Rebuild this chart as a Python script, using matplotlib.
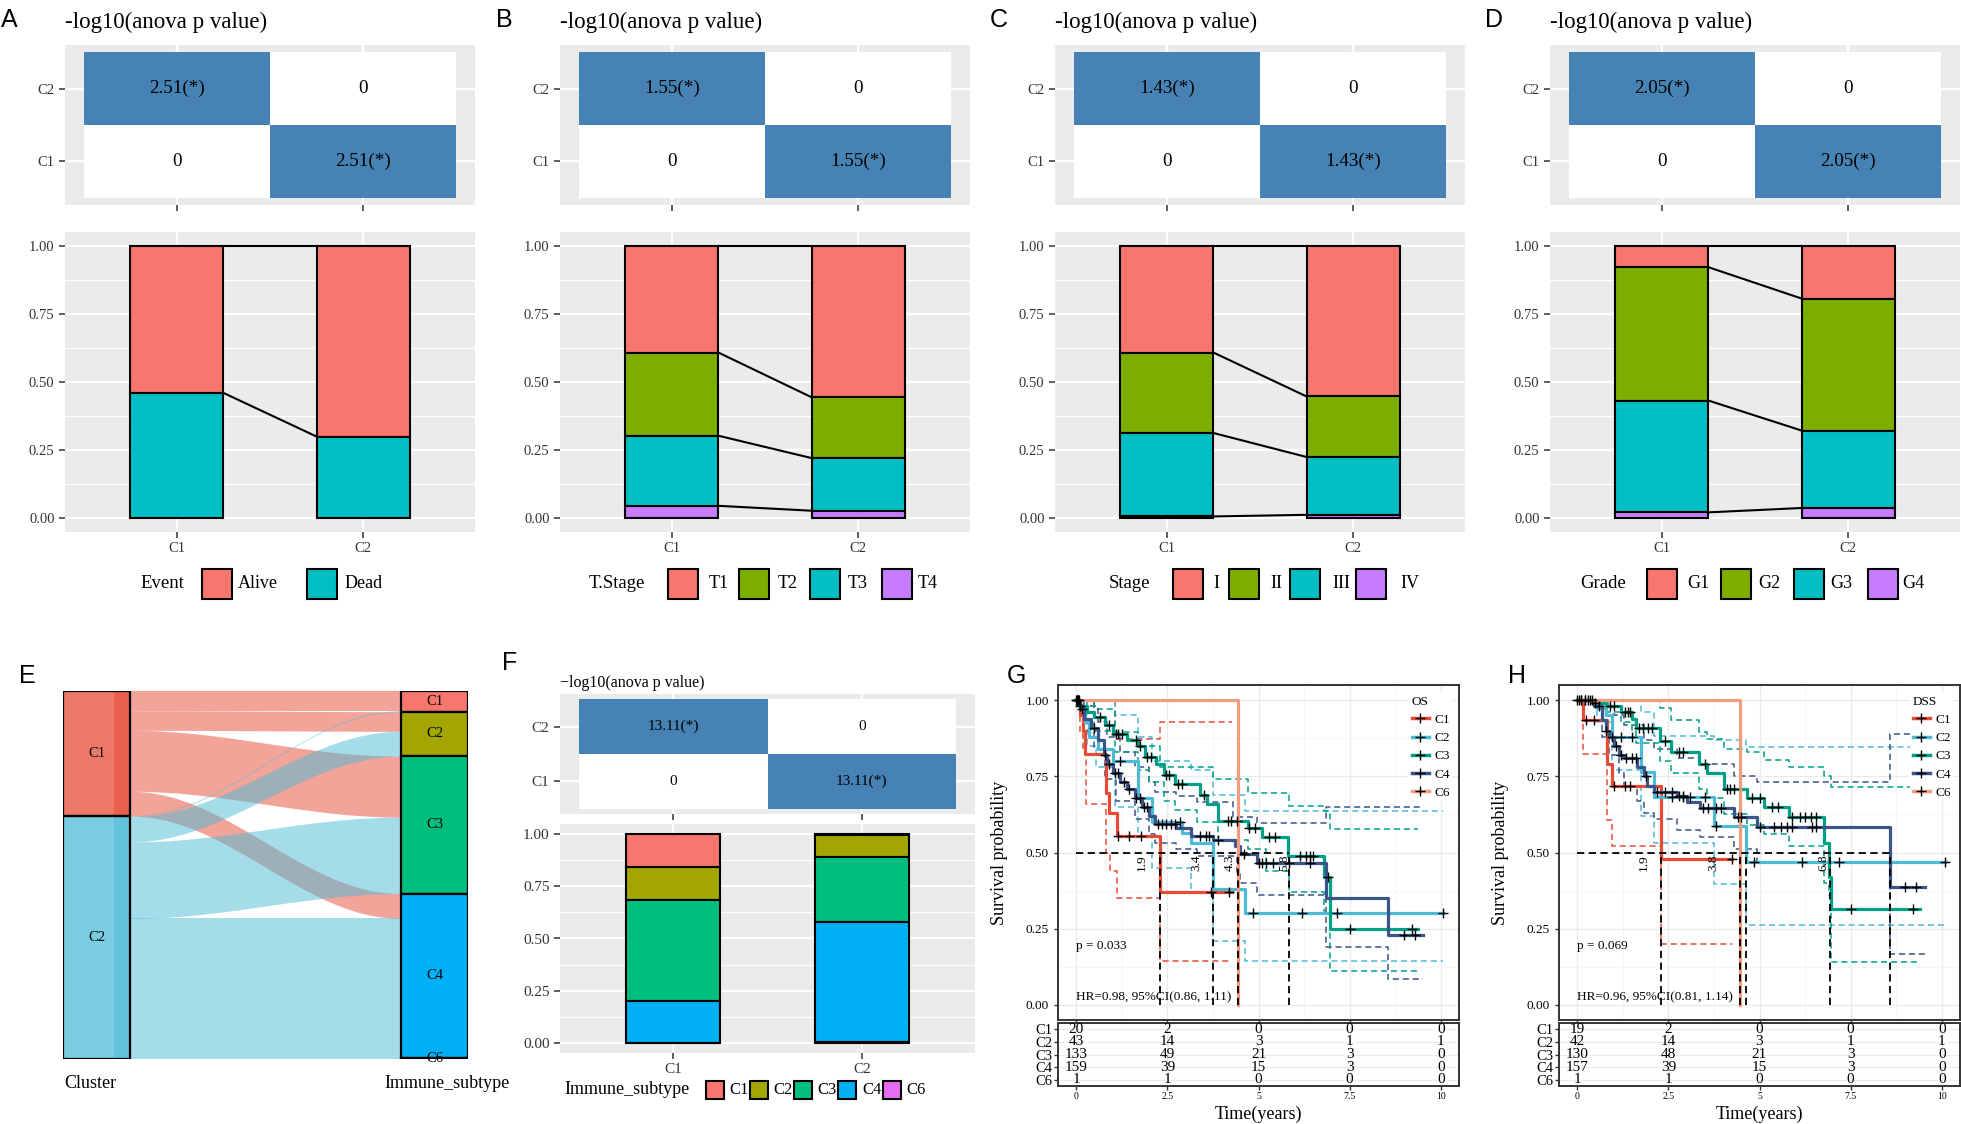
import numpy as np
import matplotlib
matplotlib.use('Agg')
import matplotlib.pyplot as plt
from matplotlib.lines import Line2D
from matplotlib.patches import Rectangle
from matplotlib.colors import LinearSegmentedColormap

plt.rcParams['font.family'] = ['Liberation Serif', 'DejaVu Serif']

# ---------------- data ----------------
clusters = ['C1', 'C2']

anova_event = 2.51
anova_tstage = 1.55
anova_stage = 1.43
anova_grade = 2.05
anova_immune = 13.11

event_levels = ['Alive', 'Dead']
event_c1 = [0.54, 0.46]
event_c2 = [0.70, 0.30]

tstage_levels = ['T1', 'T2', 'T3', 'T4']
tstage_c1 = [0.392, 0.305, 0.257, 0.046]
tstage_c2 = [0.556, 0.223, 0.193, 0.028]

stage_levels = ['I', 'II', 'III', 'IV']
stage_c1 = [0.392, 0.295, 0.306, 0.007]
stage_c2 = [0.553, 0.222, 0.212, 0.013]

grade_levels = ['G1', 'G2', 'G3', 'G4']
grade_c1 = [0.079, 0.489, 0.410, 0.022]
grade_c2 = [0.194, 0.484, 0.284, 0.038]

immune_levels = ['C1', 'C2', 'C3', 'C4', 'C6']
immune_c1_counts = [19, 19, 59, 24, 0]
immune_c2_counts = [1, 24, 74, 135, 1]

hue2 = ['#F8766D', '#00BFC4']
hue4 = ['#F8766D', '#7CAE00', '#00BFC4', '#C77CFF']
hue5 = ['#F8766D', '#A3A500', '#00BF7D', '#00B0F6', '#E76BF3']
npg = ['#E64B35', '#4DBBD5', '#00A087', '#3C5488', '#F39B7F']

# OS (panel G)
os_c1_t = [0, 0.1, 0.19, 0.25, 0.83, 0.9, 1.12, 2.29, 4.26]
os_c1_s = [1.0, 0.95, 0.90, 0.825, 0.695, 0.63, 0.555, 0.37, 0.37]
os_c2_t = [0, 0.1, 0.25, 0.35, 0.6, 1.0, 1.7, 2.07, 2.9, 3.16, 3.76, 4.63, 10.06]
os_c2_s = [1.0, 0.977, 0.93, 0.88, 0.84, 0.80, 0.68, 0.60, 0.565, 0.53, 0.38, 0.30, 0.30]
os_c3_t = [0, 0.1, 0.3, 0.5, 0.8, 1.0, 1.4, 1.7, 1.9, 2.2, 2.4, 2.7, 3.4, 3.6, 3.9, 4.7, 5.1, 5.8, 6.8, 6.95, 9.38]
os_c3_s = [1.0, 0.98, 0.96, 0.945, 0.92, 0.89, 0.87, 0.85, 0.815, 0.79, 0.755, 0.725, 0.69, 0.66, 0.605, 0.58, 0.552, 0.49, 0.42, 0.25, 0.25]
os_c4_t = [0, 0.1, 0.2, 0.4, 0.6, 0.75, 0.85, 1.0, 1.2, 1.4, 1.6, 1.8, 2.0, 2.15, 2.75, 3.16, 3.76, 4.35, 4.5, 4.95, 6.85, 8.55, 9.5]
os_c4_s = [1.0, 0.97, 0.94, 0.91, 0.87, 0.82, 0.79, 0.76, 0.73, 0.71, 0.68, 0.65, 0.62, 0.595, 0.58, 0.555, 0.54, 0.52, 0.495, 0.465, 0.35, 0.23, 0.23]
os_c6_t = [0, 4.44]
os_c6_s = [1.0, 0.0]

os_c1_hi_t = [0, 1.06, 2.29, 4.26]
os_c1_hi_s = [1.0, 0.874, 0.927, 0.927]
os_c1_lo_t = [0, 0.1, 0.19, 0.27, 0.83, 0.92, 1.12, 2.29, 4.26]
os_c1_lo_s = [1.0, 0.89, 0.84, 0.66, 0.50, 0.44, 0.35, 0.145, 0.145]
os_c2_hi_t = [0, 1.06, 1.7, 2.07, 3.16, 3.76, 4.63, 10.06]
os_c2_hi_s = [1.0, 0.95, 0.88, 0.80, 0.77, 0.69, 0.636, 0.636]
os_c2_lo_t = [0, 0.3, 0.55, 1.06, 1.7, 2.07, 3.16, 3.76, 4.63, 10.06]
os_c2_lo_s = [1.0, 0.85, 0.78, 0.65, 0.55, 0.45, 0.37, 0.21, 0.145, 0.145]
os_c3_hi_t = [0, 0.5, 1.06, 1.7, 2.3, 3.76, 4.7, 5.85, 6.8, 6.95, 9.38]
os_c3_hi_s = [1.0, 0.97, 0.895, 0.85, 0.78, 0.74, 0.695, 0.652, 0.637, 0.577, 0.577]
os_c3_lo_t = [0, 0.5, 1.06, 1.7, 2.0, 2.4, 2.7, 3.3, 3.9, 4.7, 5.2, 5.85, 6.8, 6.95, 9.38]
os_c3_lo_s = [1.0, 0.90, 0.83, 0.77, 0.73, 0.67, 0.64, 0.60, 0.54, 0.51, 0.44, 0.37, 0.30, 0.11, 0.11]
os_c4_hi_t = [0, 0.3, 0.6, 0.85, 1.2, 1.6, 2.0, 2.15, 2.75, 3.3, 4.3, 4.95, 6.85, 9.5]
os_c4_hi_s = [1.0, 0.98, 0.93, 0.88, 0.83, 0.78, 0.73, 0.70, 0.685, 0.665, 0.617, 0.598, 0.648, 0.648]
os_c4_lo_t = [0, 0.2, 0.5, 0.8, 1.1, 1.6, 2.0, 2.15, 2.75, 3.3, 4.4, 4.5, 4.95, 6.85, 8.55, 9.5]
os_c4_lo_s = [1.0, 0.90, 0.84, 0.74, 0.67, 0.61, 0.56, 0.53, 0.51, 0.49, 0.43, 0.40, 0.36, 0.19, 0.085, 0.085]

os_c1_cens = [1.15, 1.45, 1.78, 3.7, 4.2]
os_c2_cens = [0.05, 1.2, 2.84, 4.85, 6.18, 7.14, 10.06]
os_c3_cens = [0.02, 0.05, 0.1, 0.65, 0.9, 1.1, 1.15, 1.25, 1.65, 1.75, 1.95, 2.05, 2.45, 2.55, 2.8, 2.9,
              3.5, 4.15, 4.25, 4.4, 4.75, 4.9, 5.3, 5.45, 6.15, 6.3, 6.4, 6.5, 6.9, 7.5, 9.2]
os_c4_cens = [0.0, 0.03, 0.08, 0.15, 0.5, 0.8, 0.9, 1.05, 1.15, 1.3, 1.45, 1.65, 1.75, 1.85, 1.95, 2.25,
              2.35, 2.45, 2.6, 2.7, 3.4, 3.55, 3.65, 3.9, 4.6, 5.0, 5.1, 5.2, 5.4, 5.85, 6.4, 9.0, 9.3]

os_medians = [2.29, 3.76, 4.44, 5.84]
os_med_x = [1.79, 3.3, 4.21, 5.72]
os_med_labels = ['1.9', '3.4', '4.3', '5.8']
os_risk = [[20, 2, 0, 0, 0], [43, 14, 3, 1, 1], [133, 49, 21, 3, 0], [159, 39, 15, 3, 0], [1, 1, 0, 0, 0]]

# DSS (panel H)
dss_c1_t = [0, 0.16, 0.82, 0.96, 2.31, 4.25]
dss_c1_s = [1.0, 0.935, 0.79, 0.72, 0.48, 0.48]
dss_c2_t = [0, 0.55, 0.8, 0.95, 1.75, 2.1, 3.74, 4.62, 10.1]
dss_c2_s = [1.0, 0.976, 0.95, 0.88, 0.765, 0.683, 0.587, 0.468, 0.468]
dss_c3_t = [0, 0.5, 0.82, 1.19, 1.51, 1.6, 2.28, 2.56, 3.33, 3.56, 4.02, 4.66, 5.11, 5.8, 6.76, 6.9, 6.96, 9.41]
dss_c3_s = [1.0, 0.99, 0.98, 0.96, 0.94, 0.91, 0.865, 0.83, 0.79, 0.76, 0.71, 0.68, 0.65, 0.615, 0.53, 0.42, 0.315, 0.315]
dss_c4_t = [0, 0.46, 0.68, 0.78, 0.87, 1.0, 1.14, 1.28, 1.64, 1.83, 1.92, 2.1, 2.74, 3.01, 3.38, 4.29, 4.93, 8.57, 9.54]
dss_c4_s = [1.0, 0.98, 0.935, 0.90, 0.88, 0.85, 0.82, 0.81, 0.78, 0.75, 0.72, 0.70, 0.685, 0.667, 0.647, 0.617, 0.585, 0.388, 0.388]
dss_c6_t = [0, 4.46]
dss_c6_s = [1.0, 0.0]

dss_c1_hi_t = [0, 4.25]
dss_c1_hi_s = [1.0, 1.0]
dss_c1_lo_t = [0, 0.16, 0.82, 0.96, 2.31, 4.25]
dss_c1_lo_s = [1.0, 0.825, 0.607, 0.52, 0.20, 0.20]
dss_c2_hi_t = [0, 1.75, 2.1, 3.74, 4.62, 10.1]
dss_c2_hi_s = [1.0, 0.96, 0.883, 0.87, 0.846, 0.846]
dss_c2_lo_t = [0, 0.55, 0.95, 1.75, 2.1, 3.74, 4.62, 10.1]
dss_c2_lo_s = [1.0, 0.93, 0.77, 0.62, 0.53, 0.395, 0.262, 0.262]
dss_c3_hi_t = [0, 2.28, 2.56, 3.33, 3.56, 4.02, 4.66, 5.11, 5.8, 6.76, 6.96, 9.41]
dss_c3_hi_s = [1.0, 0.973, 0.935, 0.896, 0.874, 0.84, 0.83, 0.805, 0.78, 0.75, 0.714, 0.714]
dss_c3_lo_t = [0, 0.82, 1.19, 1.51, 1.6, 2.28, 2.56, 3.33, 3.56, 4.02, 4.66, 5.11, 5.8, 6.76, 6.9, 6.96, 9.41]
dss_c3_lo_s = [1.0, 0.96, 0.93, 0.90, 0.86, 0.80, 0.76, 0.71, 0.68, 0.625, 0.59, 0.56, 0.52, 0.40, 0.36, 0.14, 0.14]
dss_c4_hi_t = [0, 0.78, 1.0, 1.28, 1.83, 2.1, 2.74, 3.38, 4.29, 4.93, 8.57, 9.54]
dss_c4_hi_s = [1.0, 0.98, 0.95, 0.92, 0.87, 0.84, 0.81, 0.79, 0.75, 0.73, 0.89, 0.89]
dss_c4_lo_t = [0, 0.68, 0.87, 1.14, 1.28, 1.64, 1.83, 2.1, 2.74, 3.38, 4.29, 4.93, 8.57, 9.54]
dss_c4_lo_s = [1.0, 0.88, 0.82, 0.76, 0.72, 0.67, 0.63, 0.61, 0.575, 0.55, 0.51, 0.467, 0.167, 0.167]

dss_c1_cens = [0.25, 0.45, 1.0, 1.3, 1.45, 4.25]
dss_c2_cens = [0.1, 0.3, 1.2, 1.5, 2.6, 2.9, 3.1, 3.5, 3.8, 4.84, 6.16, 7.17, 10.1]
dss_c3_cens = [0.0, 0.1, 0.2, 0.35, 0.5, 0.9, 1.0, 1.3, 1.4, 1.45, 1.7, 1.8, 1.95, 2.05, 2.4, 2.8, 2.9,
               3.5, 4.1, 4.2, 4.3, 4.8, 5.0, 5.35, 5.5, 5.9, 6.1, 6.25, 6.4, 6.55, 7.5, 9.2]
dss_c4_cens = [0.05, 0.2, 0.4, 0.6, 0.8, 0.95, 1.05, 1.2, 1.35, 1.5, 1.6, 1.9, 2.2, 2.4, 2.6, 2.8, 2.9,
               3.45, 3.6, 3.8, 3.95, 4.4, 4.5, 5.0, 5.4, 5.6, 5.75, 5.9, 6.45, 6.55, 9.0, 9.3]

dss_medians = [2.31, 4.47, 4.63, 6.94, 8.57]
dss_med_x = [1.83, 3.74, 6.76]
dss_med_labels = ['1.9', '3.8', '6.8']
dss_risk = [[19, 2, 0, 0, 0], [42, 14, 3, 1, 1], [130, 48, 21, 3, 0], [157, 39, 15, 3, 0], [1, 1, 0, 0, 0]]

# ---------------- figure ----------------
W, H = 1961, 1124
fig = plt.figure(figsize=(W / 100, H / 100), dpi=100)
BG = '#EBEBEB'
TXT = '#333333'


def px_axes(x0, y0, x1, y1):
    return fig.add_axes([x0 / W, 1 - y1 / H, (x1 - x0) / W, (y1 - y0) / H])


def ftext(x, y, s, **kw):
    fig.text(x / W, 1 - y / H, s, **kw)


def draw_heat(ax, val, fs_txt, fs_tick):
    z = np.array([[0, val], [val, 0]])
    ax.set_facecolor(BG)
    for p in (1, 2):
        ax.axvline(p, color='white', lw=1.6, zorder=0)
        ax.axhline(p, color='white', lw=1.6, zorder=0)
    cmap = LinearSegmentedColormap.from_list('hm', ['white', '#4682B4'])
    ax.pcolormesh([0.5, 1.5, 2.5], [0.5, 1.5, 2.5], z, cmap=cmap, vmin=0, vmax=val, zorder=1)
    for i in range(2):
        for j in range(2):
            v = z[i, j]
            s = f'{v:.2f}(*)' if v > 0 else '0'
            ax.text(j + 1, i + 1, s, ha='center', va='center', fontsize=fs_txt, color='black', zorder=2)
    ax.set_xlim(0.4, 2.6)
    ax.set_ylim(0.4, 2.6)
    ax.set_xticks([1, 2])
    ax.set_xticklabels([])
    ax.set_yticks([1, 2])
    ax.set_yticklabels(clusters, fontsize=fs_tick, color=TXT)
    ax.tick_params(length=4, width=1.1, color=TXT)
    for sp in ax.spines.values():
        sp.set_visible(False)


def draw_stack(ax, props_by_cluster, colors, connect, fs_tick):
    ax.set_facecolor(BG)
    tops_all = []
    for i, props in enumerate(props_by_cluster):
        props = np.array(props)
        tops = 1 - np.concatenate([[0], np.cumsum(props)[:-1]])
        ax.bar(np.full(len(props), i + 1), props, bottom=tops - props, width=0.5,
               color=colors[:len(props)], edgecolor='black', linewidth=1.5, zorder=3)
        tops_all.append(tops)
    if connect:
        for a, b in zip(tops_all[0], tops_all[1]):
            ax.plot([1.25, 1.75], [a, b], color='black', lw=1.5, zorder=2)
    ax.set_xlim(0.4, 2.6)
    ax.set_ylim(-0.05, 1.05)
    ax.set_xticks([1, 2])
    ax.set_xticklabels(clusters, fontsize=fs_tick, color=TXT)
    ax.set_yticks([0, 0.25, 0.5, 0.75, 1.0])
    ax.set_yticklabels(['0.00', '0.25', '0.50', '0.75', '1.00'], fontsize=fs_tick, color=TXT)
    ax.set_yticks([0.125, 0.375, 0.625, 0.875], minor=True)
    ax.tick_params(which='major', length=4, width=1.1, color=TXT)
    ax.tick_params(which='minor', length=0)
    ax.grid(which='major', color='white', lw=1.6)
    ax.grid(which='minor', axis='y', color='white', lw=0.8)
    ax.set_axisbelow(True)
    for sp in ax.spines.values():
        sp.set_visible(False)


def legend_row(title, labels, colors, title_x, box_xs, label_xs, y, box, fs_title, fs_lab):
    ftext(title_x, y, title, fontsize=fs_title, va='center', ha='left', color='black')
    for bx, lx, lab, c in zip(box_xs, label_xs, labels, colors):
        fig.add_artist(Rectangle((bx / W, 1 - (y + box / 2) / H), box / W, box / H,
                                 transform=fig.transFigure, facecolor=c, edgecolor='black', lw=1.5))
        ftext(lx, y, lab, fontsize=fs_lab, va='center', ha='left', color='black')


# ---------------- panels A-D ----------------
top_specs = [
    ('A', 0, anova_event, 'Event', event_levels, [event_c1, event_c2], hue2, 140, [202, 307], [238, 345]),
    ('B', 495, anova_tstage, 'T.Stage', tstage_levels, [tstage_c1, tstage_c2], hue4, 589,
     [668, 739, 810, 882], [709, 778, 848, 918]),
    ('C', 990, anova_stage, 'Stage', stage_levels, [stage_c1, stage_c2], hue4, 1109,
     [1173, 1229, 1290, 1356], [1213, 1270, 1332, 1400]),
    ('D', 1485, anova_grade, 'Grade', grade_levels, [grade_c1, grade_c2], hue4, 1580,
     [1647, 1721, 1794, 1868], [1687, 1758, 1830, 1902]),
]
for letter, dx, val, ltitle, levels, props, cols, tx, bxs, lxs in top_specs:
    axh = px_axes(65 + dx, 45, 475 + dx, 205)
    draw_heat(axh, val, 13.8, 10.5)
    ftext(65 + dx, 22, '-log10(anova p value)', fontsize=16.5, va='center', ha='left')
    axb = px_axes(65 + dx, 232, 475 + dx, 532)
    draw_stack(axb, props, cols, True, 10.5)
    legend_row(ltitle, levels, cols, tx, bxs, lxs, 584, 30, 13.5, 13)
    ftext(9 + dx, 20, letter, fontsize=18, va='center', ha='center', family='Liberation Sans')

# ---------------- panel E (alluvial) ----------------
axe = px_axes(63, 691, 468, 1059)
counts = np.array([immune_c1_counts, immune_c2_counts])
total = counts.sum()
w = 67 / 405
left_start = np.concatenate([[0], np.cumsum(counts.sum(1))[:-1]])
right_start = np.concatenate([[0], np.cumsum(counts.sum(0))[:-1]])
flow_cols = ['#E64B35', '#4DBBD5']


def sig(x0, x1, y0, y1, n=80):
    x = np.linspace(x0, x1, n)
    t = (x - x0) / (x1 - x0)
    s = 0.5 - 0.5 * np.cos(np.pi * t)
    return x, y0 + (y1 - y0) * s


for k in range(2):
    for i in range(len(immune_levels)):
        n = counts[k, i]
        if n == 0:
            continue
        a0 = left_start[k] + counts[k, :i].sum()
        b0 = right_start[i] + counts[:k, i].sum()
        x, ytop = sig(w, 1 - w, a0, b0)
        _, ybot = sig(w, 1 - w, a0 + n, b0 + n)
        axe.fill_between(x, ytop, ybot, color=flow_cols[k], alpha=0.5, lw=0, zorder=1)

strat_main = ['#EC7868', '#7ACCE0']
strat_strip = ['#E8604D', '#62C3DA']
for k in range(2):
    n = counts[k].sum()
    axe.add_patch(Rectangle((0, left_start[k]), w, n, facecolor=strat_main[k], lw=0, zorder=3))
    axe.add_patch(Rectangle((0.126, left_start[k]), w - 0.126, n, facecolor=strat_strip[k], lw=0, zorder=3))
    axe.add_patch(Rectangle((0, left_start[k]), w, n, facecolor='none', edgecolor='black', lw=1.6, zorder=4))
    axe.text(w / 2, left_start[k] + n / 2, clusters[k], ha='center', va='center', fontsize=10.5, zorder=5)
for i, lab in enumerate(immune_levels):
    n = counts[:, i].sum()
    axe.add_patch(Rectangle((1 - w, right_start[i]), w, n, facecolor=hue5[i], edgecolor='black', lw=1.6, zorder=3))
    axe.text(1 - w / 2, right_start[i] + n / 2, lab, ha='center', va='center', fontsize=10.5, zorder=5)
axe.set_xlim(0, 1)
axe.set_ylim(total, 0)
axe.axis('off')
ftext(90, 1084, 'Cluster', fontsize=13, ha='center', va='center')
ftext(447, 1084, 'Immune_subtype', fontsize=13, ha='center', va='center')
ftext(27, 676, 'E', fontsize=18, va='center', ha='center', family='Liberation Sans')

# ---------------- panel F ----------------
axfh = px_axes(560, 694, 975, 814)
draw_heat(axfh, anova_immune, 11, 11)
ftext(560, 683, '\u2212log10(anova p value)', fontsize=11.5, va='center', ha='left')
axfb = px_axes(560, 824, 975, 1053)
f_props = [list(counts[k] / counts[k].sum()) for k in range(2)]
draw_stack(axfb, f_props, hue5, False, 11)
legend_row('Immune_subtype', immune_levels, hue5, 564, [706, 750, 794, 838, 883],
           [729, 773, 817, 862, 906], 1090, 18, 13, 12)
ftext(510, 663, 'F', fontsize=18, va='center', ha='center', family='Liberation Sans')


# ---------------- panels G, H (KM) ----------------
def step_val(t, s, c):
    i = np.searchsorted(t, c, side='right') - 1
    return np.asarray(s)[i]


def km_panel(x0, legend_title, curves, his, los, cens, medians, med_x, med_labels,
             ptxt, hrtxt, risk, letter):
    ax = px_axes(x0, 685, x0 + 401, 1020)
    ax.set_facecolor('white')
    for (t, s), c in zip(his + los, npg[:4] * 2):
        ax.step(t, s, where='post', color=c, lw=1.1, ls=(0, (4, 2.5)), zorder=2)
    for (t, s), c in zip(curves, npg):
        ax.step(t, s, where='post', color=c, lw=2.3, zorder=3)
    for (t, s), cs in zip(curves[:4], cens):
        ax.plot(cs, step_val(t, s, cs), ls='none', marker='+', ms=7, mew=1.0, color='black', zorder=4)
    ax.hlines(0.5, 0, max(medians), colors='black', lw=1.3, linestyles=(0, (4, 2.5)), zorder=5)
    ax.vlines(medians, 0, 0.5, colors='black', lw=1.3, linestyles=(0, (4, 2.5)), zorder=5)
    for mx, ml in zip(med_x, med_labels):
        ax.text(mx, 0.465, ml, rotation=90, ha='center', va='center', fontsize=9.5, zorder=6)
    ax.text(0, 0.193, ptxt, fontsize=9.5, ha='left', va='center')
    ax.text(0, 0.025, hrtxt, fontsize=9.5, ha='left', va='center', zorder=6)
    ax.set_xlim(-0.5, 10.5)
    ax.set_ylim(-0.05, 1.05)
    ax.set_xticks([0, 2.5, 5, 7.5, 10])
    ax.set_xticklabels([])
    ax.set_xticks([1.25, 3.75, 6.25, 8.75], minor=True)
    ax.set_yticks([0, 0.25, 0.5, 0.75, 1.0])
    ax.set_yticklabels(['0.00', '0.25', '0.50', '0.75', '1.00'], fontsize=9.5)
    ax.set_yticks([0.125, 0.375, 0.625, 0.875], minor=True)
    ax.tick_params(which='major', length=3, width=1, color=TXT)
    ax.tick_params(which='minor', length=0)
    ax.grid(which='major', color='#EBEBEB', lw=1.0, zorder=0)
    ax.grid(which='minor', color='#F4F4F4', lw=0.6, zorder=0)
    ax.set_axisbelow(True)
    for sp in ax.spines.values():
        sp.set_color(TXT)
        sp.set_linewidth(1.4)
    ax.set_ylabel('Survival probability', fontsize=13)
    ax.yaxis.set_label_coords(-0.125, 0.5)
    handles = [Line2D([], [], color=c, lw=2.5, marker='+', mec='black', ms=7) for c in npg]
    leg = ax.legend(handles, ['C1', 'C2', 'C3', 'C4', 'C6'], title=legend_title, loc='upper right',
                    bbox_to_anchor=(1.0, 0.995), frameon=True, facecolor='white', edgecolor='none',
                    framealpha=1, fancybox=False, fontsize=9.5, title_fontsize=9.5, handlelength=1.3,
                    labelspacing=0.45, borderpad=0.2, handletextpad=0.4, alignment='left')
    leg.set_zorder(7)

    axr = px_axes(x0, 1023, x0 + 401, 1086)
    for r, row in enumerate(risk):
        for xi, v in zip([0, 2.5, 5, 7.5, 10], row):
            axr.text(xi, r + 1, str(v), ha='center', va='center', fontsize=11)
    axr.set_xlim(-0.5, 10.5)
    axr.set_ylim(5.5, 0.5)
    axr.set_yticks([1, 2, 3, 4, 5])
    axr.set_yticklabels(['C1', 'C2', 'C3', 'C4', 'C6'], fontsize=10.5)
    axr.set_xticks([0, 2.5, 5, 7.5, 10])
    axr.set_xticklabels(['0', '2.5', '5', '7.5', '10'], fontsize=7)
    axr.tick_params(length=3, width=1, color=TXT, pad=1)
    axr.grid(color='#EBEBEB', lw=0.8)
    axr.set_axisbelow(True)
    for sp in axr.spines.values():
        sp.set_color(TXT)
        sp.set_linewidth(1.4)
    ftext(x0 + 200, 1114, 'Time(years)', fontsize=13, ha='center', va='center')
    ftext(x0 - 42, 676, letter, fontsize=18, va='center', ha='center', family='Liberation Sans')


km_panel(1058, 'OS',
         [(os_c1_t, os_c1_s), (os_c2_t, os_c2_s), (os_c3_t, os_c3_s), (os_c4_t, os_c4_s), (os_c6_t, os_c6_s)],
         [(os_c1_hi_t, os_c1_hi_s), (os_c2_hi_t, os_c2_hi_s), (os_c3_hi_t, os_c3_hi_s), (os_c4_hi_t, os_c4_hi_s)],
         [(os_c1_lo_t, os_c1_lo_s), (os_c2_lo_t, os_c2_lo_s), (os_c3_lo_t, os_c3_lo_s), (os_c4_lo_t, os_c4_lo_s)],
         [os_c1_cens, os_c2_cens, os_c3_cens, os_c4_cens],
         os_medians, os_med_x, os_med_labels, 'p = 0.033', 'HR=0.98, 95%CI(0.86, 1.11)', os_risk, 'G')

km_panel(1559, 'DSS',
         [(dss_c1_t, dss_c1_s), (dss_c2_t, dss_c2_s), (dss_c3_t, dss_c3_s), (dss_c4_t, dss_c4_s), (dss_c6_t, dss_c6_s)],
         [(dss_c1_hi_t, dss_c1_hi_s), (dss_c2_hi_t, dss_c2_hi_s), (dss_c3_hi_t, dss_c3_hi_s), (dss_c4_hi_t, dss_c4_hi_s)],
         [(dss_c1_lo_t, dss_c1_lo_s), (dss_c2_lo_t, dss_c2_lo_s), (dss_c3_lo_t, dss_c3_lo_s), (dss_c4_lo_t, dss_c4_lo_s)],
         [dss_c1_cens, dss_c2_cens, dss_c3_cens, dss_c4_cens],
         dss_medians, dss_med_x, dss_med_labels, 'p = 0.069', 'HR=0.96, 95%CI(0.81, 1.14)', dss_risk, 'H')

fig.savefig('out.png', dpi=100)
